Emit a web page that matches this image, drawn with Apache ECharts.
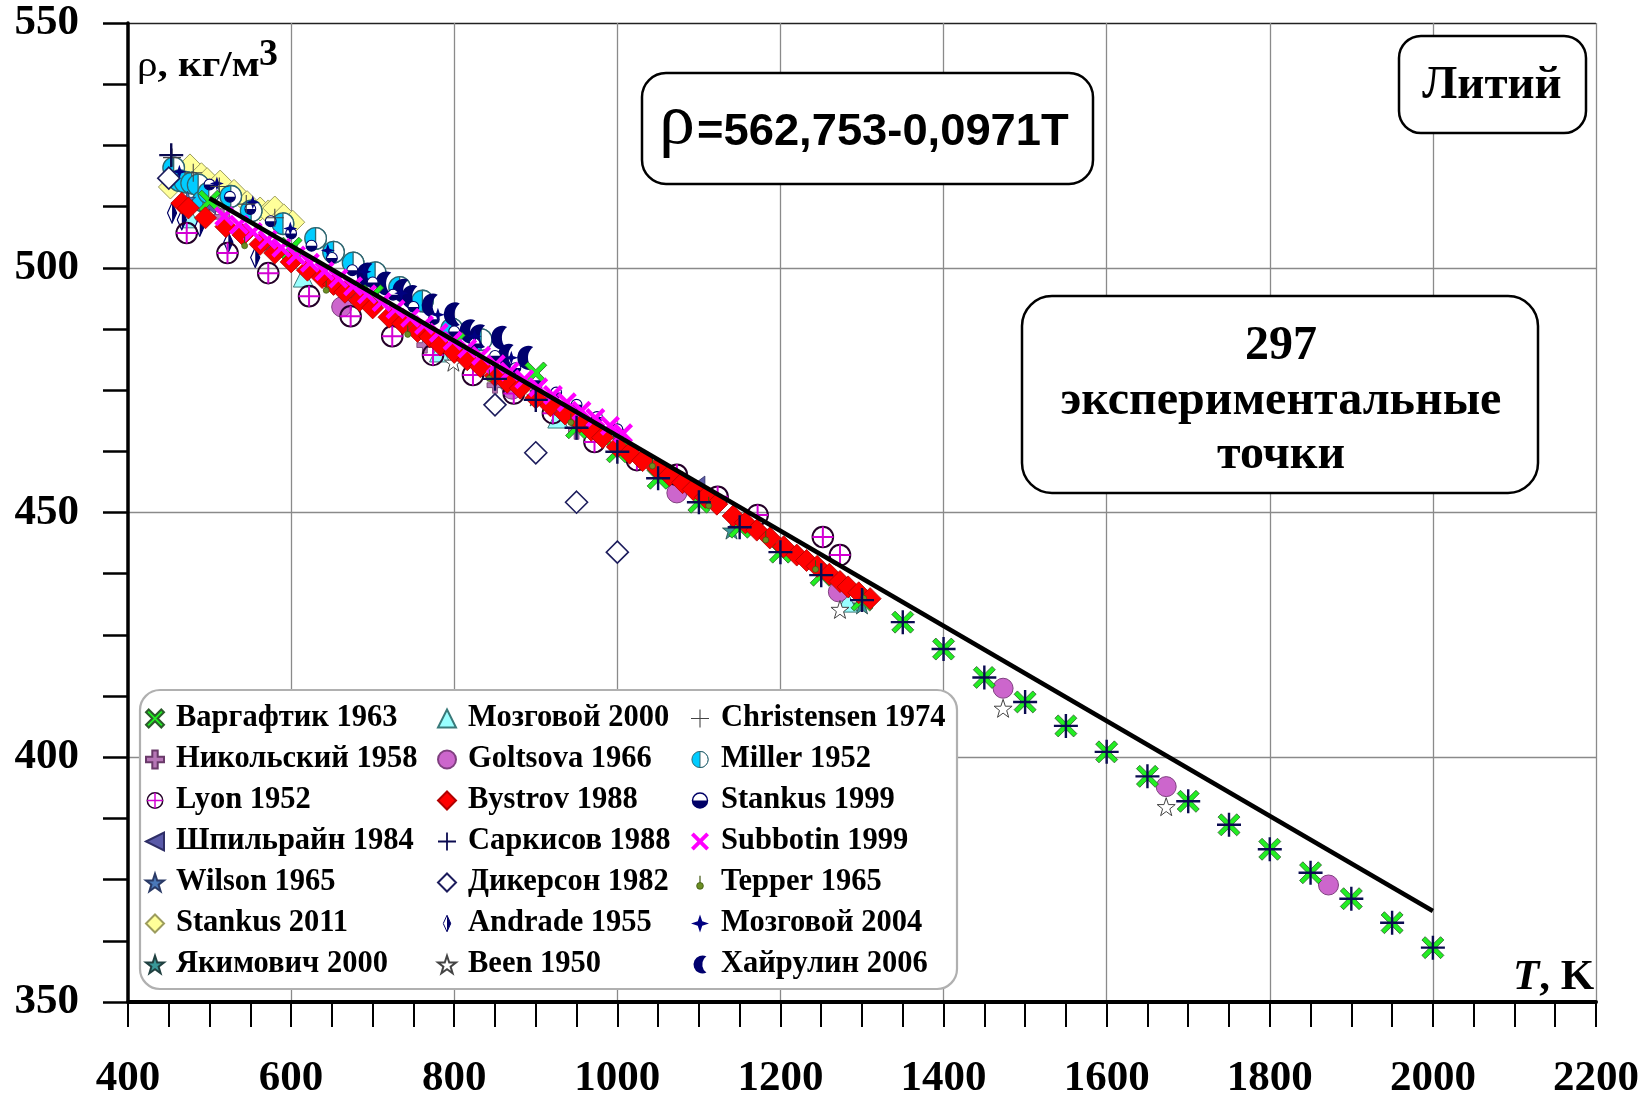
<!DOCTYPE html>
<html>
<head>
<meta charset="utf-8">
<script src="https://cdn.jsdelivr.net/npm/echarts@6/dist/echarts.min.js"></script>
<style>
  html, body { margin: 0; padding: 0; background: #fff; }
  #chart { width: 1646px; height: 1094px; }
</style>
</head>
<body>
<div id="chart"></div>
<script>
// Density of liquid lithium, kg/m3, versus temperature T, K
const xTicks = [400, 600, 800, 1000, 1200, 1400, 1600, 1800, 2000, 2200];
const yTicks = [350, 400, 450, 500, 550];

const vargaftik1963 = [[500,513.6],[600,504.0],[700,494.3],[800,484.6],[900,478.5],[950,467.3],[1000,462.4],[1050,457.0],[1100,452.1],[1150,447.0],[1200,441.9],[1250,437.2],[1300,432.1],[1350,427.6],[1400,422.1],[1450,416.3],[1500,411.3],[1550,406.4],[1600,401.1],[1650,396.1],[1700,391.0],[1750,386.2],[1800,381.2],[1850,376.4],[1900,371.1],[1950,366.2],[2000,361.1]];
const nikolsky1958 = [[515,510.4],[600,502.0],[680,494.3],[764,484.2],[850,476.0],[950,466.6]];
const lyon1952 = [[472,507.1],[522,503.0],[572,498.9],[622,494.2],[673,490.1],[724,486.0],[774,482.2],[823,478.1],[873,474.3],[921,470.3],[972,464.4],[1024,460.7],[1073,457.7],[1123,453.2],[1172,449.5],[1252,445.0],[1273,441.3]];
const shpilrain1984 = [[500,512.8],[600,503.3],[700,493.8],[800,484.2],[900,474.8],[1000,465.2],[1100,455.6]];
const wilson1965 = [[473,514.0],[573,505.0],[673,495.5],[773,486.0],[873,476.8]];
const stankus2011 = [[452,516.5],[476,520.8],[490,519.0],[497,518.0],[513,517.5],[530,515.6],[546,513.3],[562,512.0],[572,511.4],[580,512.2],[591,510.6],[602,509.3]];
const yakimovich2000 = [[700,493.0],[900,473.6],[1140,446.4],[1300,431.1]];
const mozgovoi2000 = [[476,510.2],[615,498.1],[782,482.8],[927,469.3],[1282,431.7]];
const goltsova1966 = [[662,492.0],[871,475.2],[1073,454.0],[1271,433.8],[1473,414.1],[1673,394.0],[1872,373.9]];
const bystrov1988 = [[466,513.2],[474,512.2],[495,510.2],[520,508.4],[541,506.7],[562,504.8],[580,503.0],[600,501.2],[620,499.5],[638,498.0],[652,496.6],[666,495.0],[684,493.3],[700,491.8],[720,489.9],[737,488.6],[755,487.0],[770,485.9],[783,484.2],[800,482.7],[816,481.2],[832,479.8],[850,478.0],[865,476.6],[881,475.4],[900,473.4],[918,471.8],[936,470.1],[954,468.5],[968,466.8],[982,465.3],[1000,463.4],[1015,462.1],[1031,460.6],[1049,459.0],[1064,457.6],[1080,456.1],[1093,454.7],[1108,453.1],[1122,451.7],[1142,449.3],[1157,447.9],[1171,446.4],[1187,444.8],[1204,443.0],[1220,441.3],[1232,440.2],[1245,439.0],[1260,437.4],[1273,435.9],[1283,434.8],[1296,433.6],[1310,432.4]];
const sarkisov1988 = [[453,523.0],[850,477.3],[900,473.0],[950,467.3],[1000,462.4],[1050,457.0],[1100,452.1],[1150,447.0],[1200,441.9],[1250,437.2],[1300,432.1],[1350,427.6],[1400,422.1],[1450,416.3],[1500,411.3],[1550,406.4],[1600,401.1],[1650,396.1],[1700,391.0],[1750,386.2],[1800,381.2],[1850,376.4],[1900,371.1],[1950,366.2],[2000,361.1]];
const dickerson1982 = [[450,518.3],[850,472.0],[900,462.2],[950,452.1],[1000,441.9]];
const andrade1955 = [[454,511.2],[466,509.8],[488,508.5],[523,505.2],[556,502.1]];
const been1950 = [[799,480.7],[1273,430.2],[1473,410.0],[1673,389.9]];
const christensen1974 = [[454,522.5],[480,519.4],[512,516.6],[545,513.0],[580,510.2]];
const miller1952 = [[456,520.4],[463,517.8],[470,517.5],[478,517.3],[486,516.9],[492,513.6],[499,515.3],[526,514.6],[551,511.6],[590,509.0],[630,506.0],[652,503.2],[676,501.0],[703,499.0],[733,496.0],[761,493.2],[797,487.5],[833,485.3],[866,477.1]];
const stankus1999 = [[500,517.0],[525,514.5],[550,512.0],[575,509.5],[600,507.0],[625,504.5],[650,502.0],[675,499.5],[700,497.0],[725,494.5],[750,492.0],[775,489.5],[800,487.0],[825,484.5],[850,482.0],[875,479.5],[900,477.0],[925,474.5],[950,472.0],[975,469.5],[1000,467.0]];
const subbotin1999 = [[518,510.5],[536,508.8],[553,507.3],[571,505.7],[588,504.1],[606,502.5],[623,501.0],[641,499.3],[658,497.8],[676,496.2],[693,494.6],[711,493.0],[728,491.5],[746,489.8],[763,488.3],[781,486.7],[798,485.1],[816,483.5],[833,482.0],[851,480.3],[868,478.8],[886,477.2],[903,475.6],[921,474.0],[938,472.5],[956,470.8],[973,469.3],[991,467.7],[1007,466.2]];
const tepper1965 = [[543,505.1],[643,496.0],[743,487.0],[843,478.0],[943,469.0],[1043,460.1],[1112,452.0],[1182,445.0],[1243,439.0],[1302,433.1]];
const mozgovoi2004 = [[463,519.6],[509,517.2],[553,513.4],[599,508.0],[645,503.5],[690,499.2],[735,494.8],[780,490.4],[825,486.0],[870,481.6]];
const khairulin2006 = [[690,498.6],[713,496.8],[734,495.3],[745,494.0],[770,492.3],[797,490.5],[816,487.0],[828,486.0],[855,485.7],[863,482.0],[887,481.6]];
// ends of the fitted line rho = 562,753 - 0,0971 T
const fitLine = [[500,514.2],[2000,368.6]];

const legendCol1 = ['Варгафтик 1963','Никольский 1958','Lyon 1952','Шпильрайн 1984','Wilson 1965','Stankus 2011','Якимович 2000'];
const legendCol2 = ['Мозговой 2000','Goltsova 1966','Bystrov 1988','Саркисов 1988','Дикерсон 1982','Andrade 1955','Been 1950'];
const legendCol3 = ['Christensen 1974','Miller 1952','Stankus 1999','Subbotin 1999','Tepper 1965','Мозговой 2004','Хайрулин 2006'];

const SERIF = "'Liberation Serif','Times New Roman',serif";

// marker shapes
const P_X = 'path://M3,0 L10,7 L17,0 L20,3 L13,10 L20,17 L17,20 L10,13 L3,20 L0,17 L7,10 L0,3 Z';
const P_PLUS_THICK = 'path://M7,0 H13 V7 H20 V13 H13 V20 H7 V13 H0 V7 H7 Z';
const P_PLUS_THIN = 'path://M9,0 H11 V9 H20 V11 H11 V20 H9 V11 H0 V9 H9 Z';
const P_PLUS_HAIR = 'path://M9.4,0 H10.6 V9.4 H20 V10.6 H10.6 V20 H9.4 V10.6 H0 V9.4 H9.4 Z';
const P_STAR = 'path://M10,0 L12.35,7.1 L19.5,7.1 L13.8,11.5 L15.9,18.5 L10,14.2 L4.1,18.5 L6.2,11.5 L0.5,7.1 L7.65,7.1 Z';
const P_LTRI = 'path://M0,10 L20,0 L20,20 Z';
const P_STAR4 = 'path://M10,0 L12.5,7.5 L20,10 L12.5,12.5 L10,20 L7.5,12.5 L0,10 L7.5,7.5 Z';
const P_MOON = 'path://M15,1 A10,10 0 1,0 15,19 A11,11 0 0,1 15,1 Z';

function svgImg(w, h, body) {
  const s = "<svg xmlns='http://www.w3.org/2000/svg' width='" + w + "' height='" + h +
    "' viewBox='0 0 " + w + " " + h + "'>" + body + "</svg>";
  return 'image://data:image/svg+xml;charset=utf-8,' + encodeURIComponent(s);
}
const I_LYON = svgImg(24, 24,
  "<circle cx='12' cy='12' r='10.3' fill='none' stroke='#240028' stroke-width='2'/>" +
  "<path d='M12 1.5V22.5M1.5 12H22.5' stroke='#d400d4' stroke-width='2'/>");
const I_MILLER = svgImg(24, 24,
  "<circle cx='12' cy='12' r='10.8' fill='#00ccff' stroke='#2e6670' stroke-width='1.3'/>" +
  "<path d='M12 1.2A10.8 10.8 0 0 1 12 22.8Z' fill='#ffffff' stroke='#2e6670' stroke-width='1.3'/>");
const I_STANKUS99 = svgImg(24, 24,
  "<circle cx='12' cy='12' r='10' fill='#ffffff' stroke='#000066' stroke-width='2'/>" +
  "<path d='M2 12A10 10 0 0 0 22 12Z' fill='#000066'/>");
const I_ANDRADE = svgImg(12, 24,
  "<path d='M6 1L11 12L6 23L1 12Z' fill='#ffffff' stroke='#000066' stroke-width='1.3'/>" +
  "<path d='M6 1L11 12L6 23Z' fill='#000066'/>");
const I_TEPPER = svgImg(12, 24,
  "<path d='M6 3V13' stroke='#3d5510' stroke-width='1.6'/>" +
  "<circle cx='6' cy='16.5' r='4.5' fill='#6b8e23' stroke='#3d5510' stroke-width='1'/>");

function sc(name, data, symbol, size, color, border, bw) {
  return {
    name: name, type: 'scatter', data: data, symbol: symbol, symbolSize: size,
    itemStyle: { color: color || '#000', borderColor: border || 'transparent', borderWidth: bw || 0, opacity: 1 },
    silent: true
  };
}

// drawing order: later series are on top
const series = [
  sc('Stankus 2011', stankus2011, 'diamond', 24, '#ffff99', '#9c9c5e', 1),
  sc('Miller 1952', miller1952, I_MILLER, 24),
  sc('Хайрулин 2006', khairulin2006, P_MOON, [16, 24], '#00006e'),
  sc('Stankus 1999', stankus1999, I_STANKUS99, 13),
  sc('Мозговой 2004', mozgovoi2004, P_STAR4, 14, '#000080'),
  sc('Christensen 1974', christensen1974, P_PLUS_HAIR, 18, '#444444'),
  sc('Wilson 1965', wilson1965, P_STAR, 16, '#4a78b8', '#2a3a66', 0.8),
  sc('Шпильрайн 1984', shpilrain1984, P_LTRI, [12, 18], '#5a5aa8', '#2e2e66', 0.8),
  sc('Якимович 2000', yakimovich2000, P_STAR, 18, '#3a9999', '#204040', 0.8),
  sc('Никольский 1958', nikolsky1958, P_PLUS_THICK, 16, '#b676b6', '#6a3a6a', 0.8),
  sc('Мозговой 2000', mozgovoi2000, 'triangle', 20, '#99ffff', '#3a7a7a', 1),
  sc('Andrade 1955', andrade1955, I_ANDRADE, [11, 22]),
  sc('Goltsova 1966', goltsova1966, 'circle', 20, '#cc66cc', '#804080', 1),
  sc('Lyon 1952', lyon1952, I_LYON, 24),
  sc('Дикерсон 1982', dickerson1982, 'diamond', 22, '#ffffff', '#1c1c5c', 1.6),
  sc('Been 1950', been1950, P_STAR, 18, '#ffffff', '#444444', 1),
  sc('Варгафтик 1963', vargaftik1963, P_X, 22, '#22ee22', '#2d5a2d', 0.8),
  sc('Bystrov 1988', bystrov1988, 'diamond', 22, '#ff0000', '#b00000', 0.8),
  sc('Subbotin 1999', subbotin1999, P_X, 20, '#ff00ff'),
  sc('Tepper 1965', tepper1965, I_TEPPER, [8, 16]),
  sc('Саркисов 1988', sarkisov1988, P_PLUS_THIN, 24, '#0a0a50'),
  {
    name: 'fit', type: 'line', data: fitLine, showSymbol: false, symbol: 'none',
    lineStyle: { color: '#000', width: 4.5 }, z: 5, silent: true
  }
];

function legendCol(names, left) {
  return {
    data: names, orient: 'vertical', left: left, top: 703, padding: 0,
    itemGap: 10, itemWidth: 18, itemHeight: 18, selectedMode: false, z: 20,
    textStyle: { fontFamily: SERIF, fontWeight: 'bold', fontSize: 30.5, lineHeight: 30, color: '#000', padding: [0, 0, 0, 7] }
  };
}

const boxStyle = { fill: '#fff', stroke: '#000', lineWidth: 2.5 };

const option = {
  animation: false,
  backgroundColor: '#fff',
  grid: { left: 128, right: 50, top: 23, bottom: 92, containLabel: false, outerBoundsMode: 'none' },
  xAxis: {
    type: 'value', min: xTicks[0], max: xTicks[xTicks.length - 1], interval: 200,
    axisLine: { show: true, onZero: false, lineStyle: { color: '#000', width: 4 } },
    axisTick: { show: true, inside: false, length: 25, lineStyle: { color: '#000', width: 2 } },
    minorTick: { show: true, splitNumber: 4, length: 25, lineStyle: { color: '#000', width: 2 } },
    axisLabel: { fontFamily: SERIF, fontWeight: 'bold', fontSize: 43, color: '#000', margin: 55,
      formatter: v => xTicks.includes(v) ? String(v) : '' },
    splitLine: { show: true, showMinLine: false, lineStyle: { color: ['#8a8a8a','#8a8a8a','#8a8a8a','#8a8a8a','#8a8a8a','#8a8a8a','#8a8a8a','#8a8a8a','#8a8a8a','#333333'], width: 1.3 } }
  },
  yAxis: {
    type: 'value', min: yTicks[0], max: yTicks[yTicks.length - 1], interval: 50,
    axisLine: { show: true, onZero: false, lineStyle: { color: '#000', width: 3.5 } },
    axisTick: { show: true, inside: false, length: 25, lineStyle: { color: '#000', width: 2.5 } },
    minorTick: { show: true, splitNumber: 4, length: 25, lineStyle: { color: '#000', width: 2.5 } },
    axisLabel: { fontFamily: SERIF, fontWeight: 'bold', fontSize: 43, color: '#000', margin: 49,
      formatter: v => yTicks.includes(v) ? String(v) : '' },
    splitLine: { show: true, lineStyle: { color: ['#8a8a8a','#8a8a8a','#8a8a8a','#8a8a8a','#222222'], width: 1.3 } }
  },
  legend: [legendCol(legendCol1, 145), legendCol(legendCol2, 437), legendCol(legendCol3, 691)],
  graphic: [
    { type: 'rect', z: 10, shape: { x: 140, y: 690, width: 817, height: 299, r: 20 }, style: { fill: '#fff', stroke: '#b0b0b0', lineWidth: 2.2 } },
    { type: 'rect', z: 10, shape: { x: 642, y: 73, width: 451, height: 111, r: 24 }, style: boxStyle },
    { type: 'rect', z: 10, shape: { x: 1399, y: 36, width: 187, height: 97, r: 22 }, style: boxStyle },
    { type: 'rect', z: 10, shape: { x: 1022, y: 296, width: 516, height: 197, r: 30 }, style: boxStyle },
    { type: 'text', z: 11, x: 659, y: 124, style: { text: 'ρ', font: '72px ' + SERIF, fill: '#000', verticalAlign: 'middle' } },
    { type: 'text', z: 11, x: 697, y: 133, scaleX: 1.03, style: { text: '=562,753-0,0971T', font: "bold 44px 'Liberation Sans',Arial,sans-serif", fill: '#000', verticalAlign: 'middle' } },
    { type: 'text', z: 11, x: 1492, y: 86, style: { text: 'Литий', font: 'bold 47px ' + SERIF, fill: '#000', align: 'center', verticalAlign: 'middle' } },
    { type: 'text', z: 11, x: 1281, y: 347, style: { text: '297', font: 'bold 48px ' + SERIF, fill: '#000', align: 'center', verticalAlign: 'middle' } },
    { type: 'text', z: 11, x: 1281, y: 402, style: { text: 'экспериментальные', font: 'bold 48px ' + SERIF, fill: '#000', align: 'center', verticalAlign: 'middle' } },
    { type: 'text', z: 11, x: 1281, y: 456, style: { text: 'точки', font: 'bold 48px ' + SERIF, fill: '#000', align: 'center', verticalAlign: 'middle' } },
    { type: 'text', z: 11, x: 137, y: 67, scaleX: 1.14, style: { text: '{r|ρ}{b|, кг/м}', fill: '#000', verticalAlign: 'middle',
        rich: { r: { fontFamily: SERIF, fontSize: 36, fontWeight: 'normal' }, b: { fontFamily: SERIF, fontSize: 36, fontWeight: 'bold' } } } },
    { type: 'text', z: 11, x: 259, y: 55, style: { text: '3', font: 'bold 38px ' + SERIF, fill: '#000', verticalAlign: 'middle' } },
    { type: 'text', z: 11, x: 1513, y: 978, style: { text: '{i|T}{b|, K}', fill: '#000', verticalAlign: 'middle',
        rich: { i: { fontFamily: SERIF, fontSize: 43, fontWeight: 'bold', fontStyle: 'italic' }, b: { fontFamily: SERIF, fontSize: 43, fontWeight: 'bold' } } } }
  ],
  series: series
};

const chart = echarts.init(document.getElementById('chart'), null, { renderer: 'canvas' });
chart.setOption(option);
</script>
</body>
</html>
